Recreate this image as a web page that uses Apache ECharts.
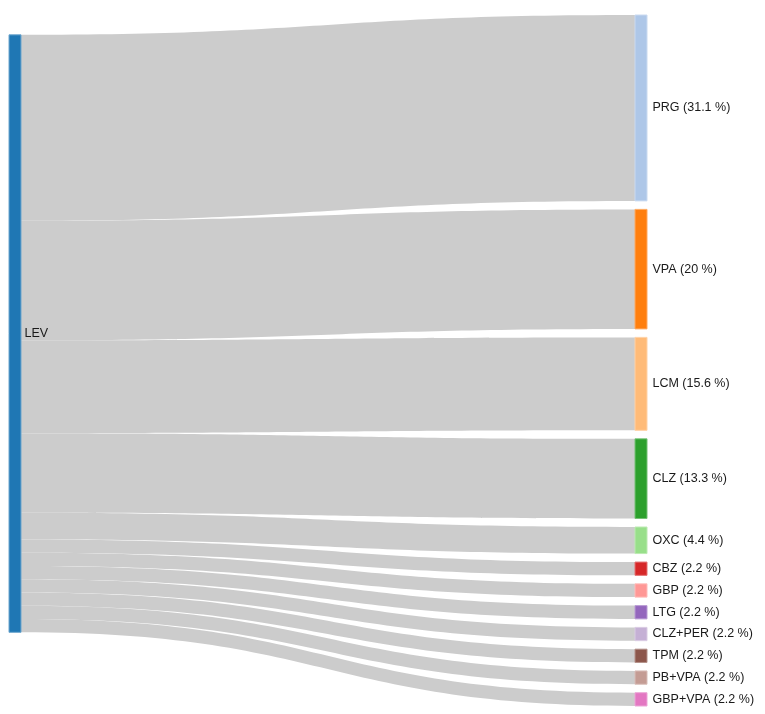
<!DOCTYPE html>
<html lang="en">
<head>
    <meta charset="UTF-8">
    <title>Sankey LEV</title>
</head>
<body style="margin: 0">
<div id="container" style="height: 714px; width: 765px;"></div>
<script type="text/javascript" src="https://cdn.jsdelivr.net/npm/echarts@6/dist/echarts.min.js"></script>
<script type="text/javascript">
    const source = 'LEV';
    const sourceColor = '#1f77b4';
    const targets = ['PRG', 'VPA', 'LCM', 'CLZ', 'OXC', 'CBZ', 'GBP', 'LTG', 'CLZ+PER', 'TPM', 'PB+VPA', 'GBP+VPA'];
    const counts = [14, 9, 7, 6, 2, 1, 1, 1, 1, 1, 1, 1];
    const percents = ['31.1', '20', '15.6', '13.3', '4.4', '2.2', '2.2', '2.2', '2.2', '2.2', '2.2', '2.2'];
    const colors = ['#aec7e8', '#ff7f0e', '#ffbb78', '#2ca02c', '#98df8a', '#d62728', '#ff9896',
        '#9467bd', '#c5b0d5', '#8c564b', '#c49c94', '#e377c2'];

    const chart = echarts.init(document.getElementById('container'));

    // darker outline around each node, like the original
    function nodeStyle(c) {
        return {color: c, borderColor: echarts.color.lift(c, 0.35), borderWidth: 1};
    }

    const nodes = [{
        name: source,
        itemStyle: nodeStyle(sourceColor),
        label: {formatter: source, distance: 3}
    }];
    targets.forEach(function (t, i) {
        nodes.push({
            name: t,
            itemStyle: nodeStyle(colors[i]),
            label: {formatter: t + ' (' + percents[i] + ' %)'}
        });
    });
    const links = targets.map(function (t, i) {
        return {source: source, target: t, value: counts[i]};
    });

    chart.setOption({
        animation: false,
        backgroundColor: '#ffffff',
        series: [{
            type: 'sankey',
            left: 9,
            right: 118,
            top: 15,
            bottom: 8,
            nodeWidth: 12,
            nodeGap: 8.5,
            layoutIterations: 32,
            draggable: false,
            data: nodes,
            links: links,
            lineStyle: {color: '#cccccc', opacity: 1, curveness: 0.5},
            emphasis: {disabled: true},
            label: {
                position: 'right',
                distance: 5,
                color: '#1a1a1a',
                fontSize: 12.5,
                fontFamily: 'Arial, Liberation Sans, sans-serif'
            }
        }]
    });
</script>
</body>
</html>
